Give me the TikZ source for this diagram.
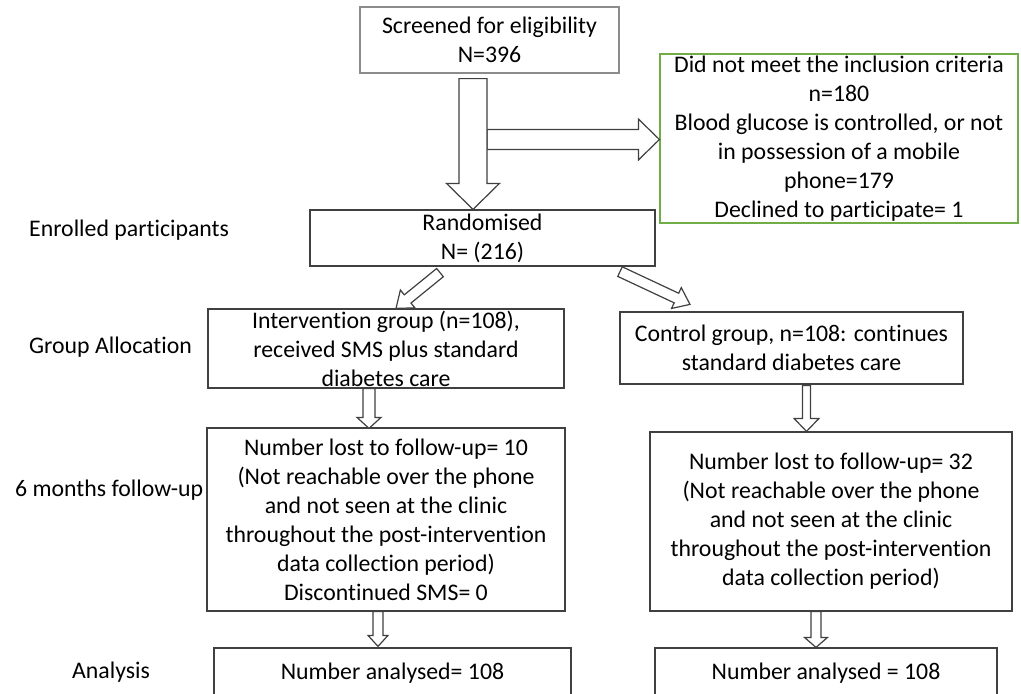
\documentclass[tikz,border=0pt]{standalone}
\usepackage{fontspec}
\setmainfont{Carlito}[RawFeature={-liga;-clig;-calt;-dlig;-rlig}]
\usetikzlibrary{calc}
\definecolor{boxgray}{HTML}{404040}
\definecolor{lightbox}{HTML}{8C8C8C}
\definecolor{greenbox}{HTML}{70AD47}
\tikzset{
  every node/.style={font=\fontsize{23.8pt}{29pt}\selectfont, inner sep=0pt},
  flowbox/.style={draw=boxgray, line width=1.2pt, align=center, rectangle},
  lightflowbox/.style={flowbox, draw=lightbox},
  greenflowbox/.style={flowbox, draw=greenbox},
  sidelabel/.style={anchor=west},
  arrowline/.style={draw=boxgray, fill=white, line width=1.2pt, line join=miter},
}
\newcommand\blockarrow[5]{%
  \draw[arrowline] let \p1=(#1), \p2=(#2),
    \n1={atan2(\y2-\y1,\x2-\x1)}, \n2={veclen(\x2-\x1,\y2-\y1)} in
    [shift={(\p1)}, rotate=\n1]
    (0,-#3) -- (\n2-#5,-#3) -- (\n2-#5,-#4) -- (\n2,0) -- (\n2-#5,#4)
    -- (\n2-#5,#3) -- (0,#3) -- cycle;}
\begin{document}
\begin{tikzpicture}[x=1pt,y=-1pt]
\useasboundingbox (0,0) rectangle (1021,694);
% boxes
\node[lightflowbox, minimum width=259pt, minimum height=66pt] (scr) at (489.5,40) {\rule{0pt}{2pt}Screened for eligibility\\N=396};
\node[greenflowbox, minimum width=358pt, minimum height=169pt] (excl) at (839,138.5) {Did not meet the inclusion criteria\\n=180\\Blood glucose is controlled, or not\\in possession of a mobile\\phone=179\\Declined to participate= 1};
\node[flowbox, minimum width=345pt, minimum height=56pt] (rand) at (482.5,238) {Randomised\\N= (216)};
\node[flowbox, minimum width=356pt, minimum height=79pt] (int) at (386,348.5) {Intervention group (n=108),\\received SMS plus standard\\diabetes care};
\node[flowbox, minimum width=343pt, minimum height=72pt] (ctl) at (791.5,348) {Control group, n=108: continues\\standard diabetes care};
\node[flowbox, minimum width=358pt, minimum height=183pt] (lfu) at (386,519.5) {Number lost to follow-up= 10\\(Not reachable over the phone\\and not seen at the clinic\\throughout the post-intervention\\data collection period)\\Discontinued SMS= 0};
\node[flowbox, minimum width=362pt, minimum height=179pt] (rfu) at (831,521.5) {Number lost to follow-up= 32\\(Not reachable over the phone\\and not seen at the clinic\\throughout the post-intervention\\data collection period)};
\node[flowbox, minimum width=357pt, minimum height=50pt] (lan) at (392.5,673) {Number analysed= 108};
\node[flowbox, minimum width=342pt, minimum height=50pt] (ran) at (826,673) {Number analysed = 108};
% side labels
\node[sidelabel] (l1) at (29,230) {Enrolled participants};
\node[sidelabel] (l2) at (29,347) {Group Allocation};
\node[sidelabel] (l3) at (15,490) {6 months follow-up};
\node[sidelabel] (l4) at (72,672) {Analysis};
% connector end points
\coordinate (a1s) at ([xshift=-16.5pt,yshift=-5pt]scr.south);
\coordinate (a1e) at ([xshift=-9.5pt]rand.north);
\coordinate (a2s) at (487,139.5);
\coordinate (a2e) at ([yshift=-1pt]excl.west);
\coordinate (a3s) at ([xshift=-42.5pt,yshift=-6pt]rand.south);
\coordinate (a3e) at ([xshift=10pt]int.north);
\coordinate (a4s) at ([xshift=137.5pt,yshift=-5pt]rand.south);
\coordinate (a4e) at ([xshift=-101.5pt,yshift=7pt]ctl.north);
\coordinate (a5s) at ([xshift=-17pt]int.south);
\coordinate (a5e) at ([xshift=-17pt,yshift=-1pt]lfu.north);
\coordinate (a6s) at ([xshift=-8pt]lfu.south);
\coordinate (a6e) at ([xshift=-14.5pt,yshift=1pt]lan.north);
\coordinate (a7s) at ([xshift=15pt,yshift=-1pt]ctl.south);
\coordinate (a7e) at ([xshift=-24.5pt]rfu.north);
\coordinate (a8s) at ([xshift=-15pt]rfu.south);
\coordinate (a8e) at ([xshift=-10pt]ran.north);
% block arrows
\blockarrow{a2s}{a2e}{10}{20.5}{21}
\blockarrow{a1s}{a1e}{14}{26.5}{26}
\blockarrow{a3s}{a3e}{5.3}{11.5}{15}
\blockarrow{a4s}{a4e}{5.3}{11.5}{15}
\blockarrow{a5s}{a5e}{6}{12}{11}
\blockarrow{a6s}{a6e}{5}{10}{11}
\blockarrow{a7s}{a7e}{4}{12.5}{13}
\blockarrow{a8s}{a8e}{5}{11.5}{10}
\end{tikzpicture}
\end{document}
